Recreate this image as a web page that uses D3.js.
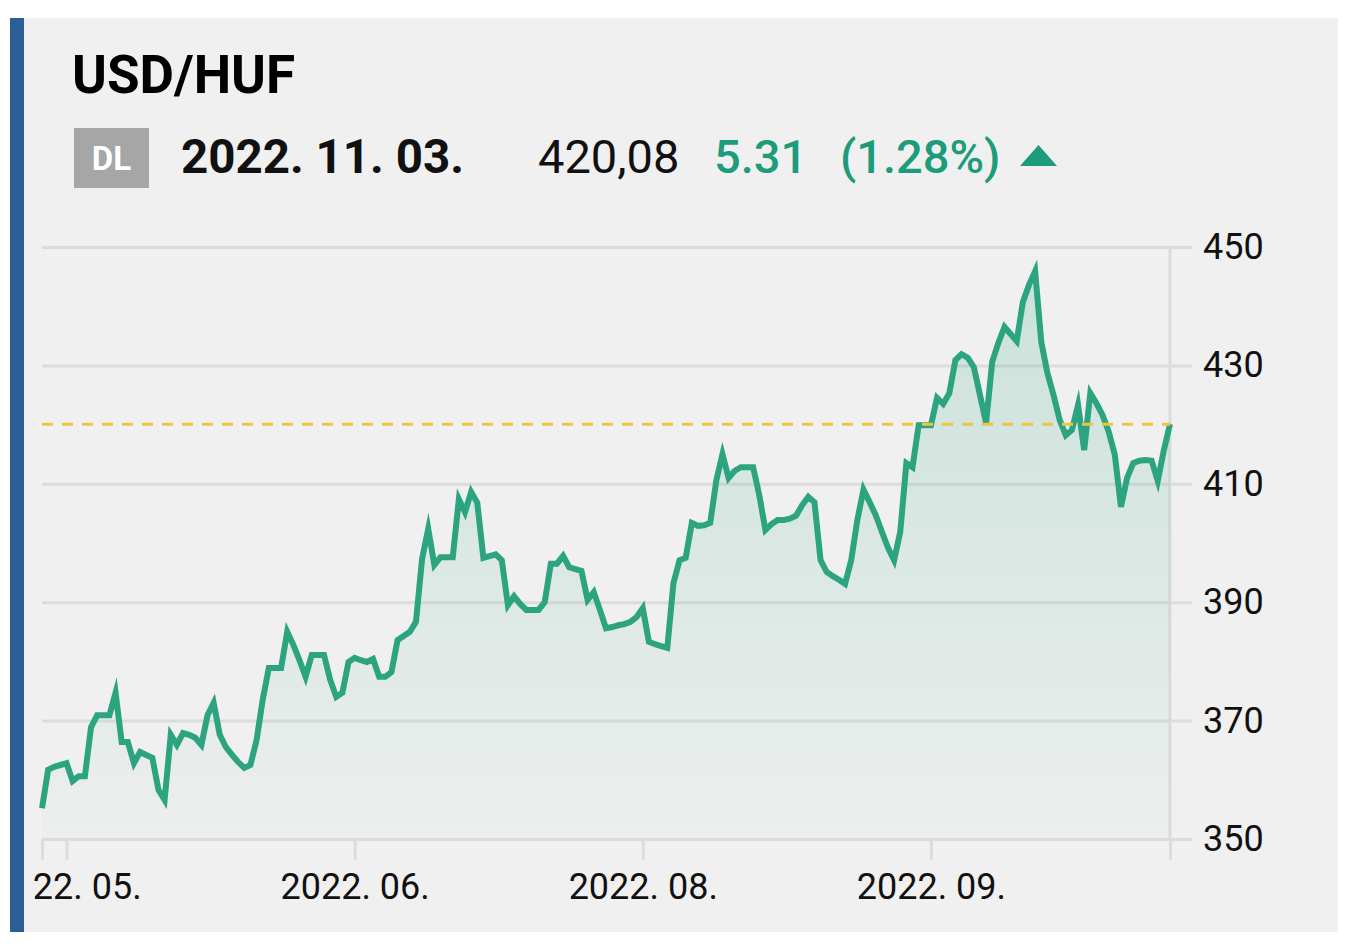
<!DOCTYPE html>
<html>
<head>
<meta charset="utf-8">
<script src="https://cdn.jsdelivr.net/npm/d3@7"></script>
<style>
  html, body { margin: 0; padding: 0; background: #ffffff; }
  svg { display: block; font-family: Roboto, "Noto Sans", sans-serif; }
</style>
</head>
<body>
<svg id="chart" width="1348" height="947"></svg>
<script>
// ---------------- data ----------------
const pairName = "USD/HUF";
const quoteBadge = "DL";
const quoteDate = "2022. 11. 03.";
const lastPrice = "420,08";
const changeAbs = "5.31";
const changePct = "(1.28%)";
const refValue = 420.08;

const startDate = "2022-05-03";
// daily closing values, one per calendar day from startDate
const values = [
  355.2, 361.7, 362.2, 362.5, 362.8, 359.8, 360.6, 360.6, 368.9, 370.9,
  370.9, 370.9, 374.7, 366.4, 366.4, 362.8, 364.7, 364.2, 363.7, 358.3,
  356.6, 367.6, 365.9, 367.9, 367.6, 367.1, 365.9, 370.9, 373.0, 367.6,
  365.5, 364.2, 363.0, 362.0, 362.5, 366.7, 373.5, 378.9, 378.9, 378.9,
  385.0, 382.8, 380.2, 377.4, 381.1, 381.1, 381.1, 376.9, 374.0, 374.7,
  379.9, 380.6, 380.2, 379.9, 380.4, 377.4, 377.4, 378.2, 383.6, 384.3,
  385.0, 386.7, 397.3, 402.4, 396.3, 397.6, 397.6, 397.6, 407.4, 405.2,
  408.6, 406.8, 397.5, 397.8, 398.1, 397.1, 389.5, 391.0, 389.7, 388.7,
  388.7, 388.7, 390.0, 396.5, 396.5, 397.8, 395.9, 395.6, 395.3, 390.4,
  391.7, 388.7, 385.6, 385.8, 386.1, 386.3, 386.7, 387.5, 389.0, 383.3,
  382.9, 382.6, 382.3, 393.2, 397.1, 397.5, 403.4, 402.9, 403.0, 403.4,
  410.6, 415.0, 411.0, 412.2, 412.8, 412.8, 412.8, 408.1, 402.2, 403.2,
  403.9, 403.9, 404.1, 404.6, 406.4, 407.8, 406.9, 397.1, 395.1, 394.4,
  393.8, 393.1, 397.1, 403.9, 409.0, 406.9, 404.7, 401.9, 399.2, 397.1,
  401.9, 413.5, 412.8, 419.9, 419.9, 419.9, 424.5, 423.5, 425.3, 430.9,
  431.9, 431.3, 429.7, 425.0, 420.3, 430.6, 433.8, 436.5, 435.3, 434.1,
  440.7, 443.6, 445.9, 434.0, 428.7, 425.0, 420.8, 418.2, 419.1, 423.3,
  415.7, 425.3, 423.6, 421.6, 418.8, 414.9, 406.1, 411.0, 413.5, 413.9,
  414.0, 413.9, 410.5, 415.7, 420.08
];

const yTicks = [350, 370, 390, 410, 430, 450];
const xTickDates = ["2022-05-07", "2022-06-23", "2022-08-09", "2022-09-25"];
const xTickLabels = ["2022. 05.", "2022. 06.", "2022. 08.", "2022. 09."];

// ---------------- drawing ----------------
const svg = d3.select("#chart");
const parse = d3.timeParse("%Y-%m-%d");
const t0 = parse(startDate);
const series = values.map((v, i) => ({ date: d3.timeDay.offset(t0, i), value: v }));
const t1 = series[series.length - 1].date;

const green = "#1c9c7b";
const lineColor = "#2ca47f";

// card
svg.append("rect").attr("x", 10).attr("y", 18).attr("width", 1328).attr("height", 914).attr("fill", "#f0f0f0");
svg.append("rect").attr("x", 10).attr("y", 18).attr("width", 14).attr("height", 914).attr("fill", "#2b5f97");

// header
svg.append("text").attr("x", 72).attr("y", 93).attr("font-size", 53).attr("font-weight", 700)
  .attr("fill", "#000").text(pairName);
svg.append("rect").attr("x", 74).attr("y", 128).attr("width", 75).attr("height", 60).attr("fill", "#a6a6a6");
svg.append("text").attr("x", 111.5).attr("y", 170).attr("text-anchor", "middle").attr("font-size", 33)
  .attr("font-weight", 700).attr("fill", "#fff").text(quoteBadge);
svg.append("text").attr("x", 181).attr("y", 173).attr("font-size", 47.5).attr("font-weight", 700)
  .attr("fill", "#111").text(quoteDate);
svg.append("text").attr("x", 538).attr("y", 173).attr("font-size", 47).attr("font-weight", 400)
  .attr("fill", "#111").text(lastPrice);
svg.append("text").attr("x", 714).attr("y", 173).attr("font-size", 47).attr("font-weight", 500)
  .attr("fill", green).text(changeAbs);
svg.append("text").attr("x", 840).attr("y", 173).attr("font-size", 47).attr("font-weight", 500)
  .attr("fill", green).text(changePct);
svg.append("path").attr("d", "M1020,166 L1057,166 L1038.5,145 Z").attr("fill", green);

// scales
const x = d3.scaleTime().domain([t0, t1]).range([42, 1170]);
const y = d3.scaleLinear().domain([350, 450]).range([839, 247]);

// clip
svg.append("defs").append("clipPath").attr("id", "clipL")
  .append("rect").attr("x", 34).attr("y", 18).attr("width", 1304).attr("height", 914);
const g = svg.append("g").attr("clip-path", "url(#clipL)");

// gradient
const grad = svg.select("defs").append("linearGradient").attr("id", "areaGrad")
  .attr("gradientUnits", "userSpaceOnUse").attr("x1", 0).attr("x2", 0)
  .attr("y1", y(450)).attr("y2", y(350));
grad.append("stop").attr("offset", "0%").attr("stop-color", lineColor).attr("stop-opacity", 0.2);
grad.append("stop").attr("offset", "100%").attr("stop-color", lineColor).attr("stop-opacity", 0.02);

// horizontal gridlines
const gridG = g.append("g").attr("transform", "translate(1192,0)")
  .call(d3.axisLeft(y).tickValues(yTicks).tickSize(1150).tickFormat(""));
gridG.select(".domain").remove();
gridG.selectAll(".tick line").attr("stroke", "#dcdcdc").attr("stroke-width", 3);

// right border line
g.append("line").attr("x1", x(t1)).attr("x2", x(t1)).attr("y1", y(450)).attr("y2", y(350))
  .attr("stroke", "#dcdcdc").attr("stroke-width", 3);

// area + line
g.append("path").datum(series)
  .attr("d", d3.area().x(d => x(d.date)).y0(y(350)).y1(d => y(d.value)))
  .attr("fill", "url(#areaGrad)");
g.append("path").datum(series)
  .attr("d", d3.line().x(d => x(d.date)).y(d => y(d.value)))
  .attr("fill", "none").attr("stroke", lineColor).attr("stroke-width", 6)
  .attr("stroke-linejoin", "miter").attr("stroke-miterlimit", 6);

// reference dashed line
g.append("line").attr("x1", x(t0)).attr("x2", x(t1)).attr("y1", y(refValue)).attr("y2", y(refValue))
  .attr("stroke", "#eec443").attr("stroke-width", 3).attr("stroke-dasharray", "11,9");

// y labels
const yAx = g.append("g").attr("transform", "translate(1192,0)")
  .call(d3.axisRight(y).tickValues(yTicks).tickSize(0).tickPadding(11));
yAx.select(".domain").remove();
yAx.selectAll("text").attr("font-size", 36).attr("fill", "#111").attr("font-family", "Roboto, sans-serif");

// x axis
const tickDates = [t0, ...xTickDates.map(parse), t1];
const labelFor = new Map(xTickDates.map((d, i) => [+parse(d), xTickLabels[i]]));
const xAx = g.append("g").attr("transform", `translate(0,${y(350)})`)
  .call(d3.axisBottom(x).tickValues(tickDates).tickSize(21).tickPadding(13)
    .tickFormat(d => labelFor.get(+d) || ""));
xAx.select(".domain").remove();
xAx.selectAll(".tick line").attr("stroke", "#dcdcdc").attr("stroke-width", 3);
xAx.selectAll("text").attr("font-size", 36).attr("fill", "#111").attr("font-family", "Roboto, sans-serif");
</script>
</body>
</html>
